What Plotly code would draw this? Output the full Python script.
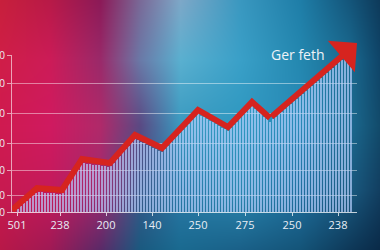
import zlib, struct, base64
import numpy as np
import plotly.graph_objects as go

# ---------------- data ----------------
x_tick_pos = [5, 48, 94, 140, 186, 233, 280, 326]
x_tick_labels = ["501", "238", "200", "140", "250", "275", "250", "238"]
y_tick_vals = [0, 17, 42, 69, 99, 129, 157]
y_tick_labels = ["0", "0", "0", "0", "0", "0", "0"]

line_x = [0, 25, 50, 70, 98, 123, 150, 186, 216, 240, 258, 345]
line_y = [2, 24, 22, 53, 49, 77, 64, 102, 85, 110, 94, 169]

bar_values = [
    3, 6, 9, 11, 14, 16, 19, 20, 20, 19, 19, 19, 19, 18, 18, 20,
    24, 29, 34, 38, 43, 47, 49, 48, 48, 47, 47, 47, 46, 46, 45, 46,
    49, 53, 56, 60, 63, 66, 70, 73, 72, 70, 69, 67, 66, 64, 63, 61,
    60, 63, 66, 70, 73, 76, 79, 82, 85, 88, 92, 95, 98, 96, 95, 93,
    91, 90, 88, 86, 84, 83, 81, 84, 87, 90, 94, 97, 100, 103, 106, 103,
    101, 98, 95, 93, 90, 93, 95, 98, 100, 103, 106, 108, 111, 113, 116, 118,
    121, 124, 126, 129, 131, 134, 137, 139, 142, 144, 147, 150, 152, 155, 157, 160,
]
bar_x = [6 + 3 * i for i in range(len(bar_values))]

annotation_text = "Ger feth"

# ---------------- background gradient (style) ----------------
W, H = 380, 250
gx = [0, 50, 100, 140, 180, 240, 300, 350, 380]
gy = [0, 60, 125, 190, 250]
grid_hex = [
    ["#c8203c", "#b81a48", "#8c1a58", "#7a6a98", "#7ea8c8", "#3a98c0", "#1f7ea8", "#14557a", "#0e3a5a"],
    ["#d01e48", "#cc1c58", "#9a2a6a", "#6a7aa8", "#5ab0d0", "#3aa0c8", "#2488b0", "#1a6a90", "#0f4468"],
    ["#d01a50", "#d01a60", "#b02a6a", "#5a4a84", "#3a9ac0", "#2f98c0", "#2a8ab8", "#1c6a90", "#124a6a"],
    ["#c81a50", "#c41a5c", "#a02a70", "#3a5a8a", "#2a7aa8", "#2a88b0", "#2070a0", "#1a5a80", "#123e60"],
    ["#b81848", "#a01a55", "#5a2a68", "#1a5a80", "#1a6a90", "#1a6088", "#145478", "#0e3858", "#0a2a48"],
]


def hex2rgb(h):
    h = h.lstrip("#")
    return [int(h[i:i + 2], 16) for i in (0, 2, 4)]


ctrl = np.array([[hex2rgb(c) for c in row] for row in grid_hex], dtype=float)
xs = np.arange(W)
ys = np.arange(H)
rows = np.zeros((len(gy), W, 3))
for r in range(len(gy)):
    for c in range(3):
        rows[r, :, c] = np.interp(xs, gx, ctrl[r, :, c])
img = np.zeros((H, W, 3))
for xi in range(W):
    for c in range(3):
        img[:, xi, c] = np.interp(ys, gy, rows[:, xi, c])
img = np.clip(img, 0, 255).astype(np.uint8)


def png_data_uri(rgb):
    h, w, _ = rgb.shape
    raw = b"".join(b"\x00" + rgb[y].tobytes() for y in range(h))

    def chunk(t, d):
        c = struct.pack(">I", len(d)) + t + d
        return c + struct.pack(">I", zlib.crc32(t + d) & 0xFFFFFFFF)

    png = (b"\x89PNG\r\n\x1a\n"
           + chunk(b"IHDR", struct.pack(">IIBBBBB", w, h, 8, 2, 0, 0, 0))
           + chunk(b"IDAT", zlib.compress(raw, 9))
           + chunk(b"IEND", b""))
    return "data:image/png;base64," + base64.b64encode(png).decode()


bg_uri = png_data_uri(img)

RED = "#d6241f"

# ---------------- figure ----------------
fig = go.Figure()

fig.add_trace(go.Bar(
    x=bar_x, y=bar_values, width=1.5, xaxis="x", yaxis="y2",
    marker=dict(color="rgba(185,210,255,0.68)", line=dict(width=0)),
    hoverinfo="skip", showlegend=False, cliponaxis=False,
))

fig.add_trace(go.Scatter(
    x=line_x[:-1], y=line_y[:-1], mode="lines", xaxis="x", yaxis="y2",
    line=dict(color=RED, width=6),
    cliponaxis=False, hoverinfo="skip", showlegend=False,
))

# final segment of the series drawn as an arrow
fig.add_annotation(
    x=line_x[-1], y=line_y[-1], xref="x", yref="y2",
    ax=line_x[-2], ay=line_y[-2], axref="x", ayref="y2",
    showarrow=True, arrowhead=1, arrowsize=1.15, arrowwidth=6,
    arrowcolor=RED, standoff=0, startstandoff=0, text="",
)

fig.add_annotation(
    x=286, y=157, xref="x", yref="y", text=annotation_text, showarrow=False,
    font=dict(family="Open Sans", size=14, color="#eef3f8"),
)

fig.update_layout(
    width=380, height=250,
    margin=dict(l=0, r=0, t=0, b=0),
    paper_bgcolor="rgba(0,0,0,0)", plot_bgcolor="rgba(0,0,0,0)",
    bargap=0,
    images=[dict(source=bg_uri, xref="paper", yref="paper", x=0, y=1,
                 sizex=1, sizey=1, sizing="stretch", layer="below")],
    xaxis=dict(
        domain=[12 / 380, 357 / 380], range=[0, 345], anchor="y",
        tickvals=x_tick_pos, ticktext=x_tick_labels,
        showgrid=False, zeroline=False,
        showline=True, linecolor="rgba(255,255,255,0.75)", linewidth=1,
        ticks="outside", ticklen=3, tickcolor="rgba(255,255,255,0.75)",
        tickfont=dict(family="Open Sans", size=11, color="#e8eef5"),
        automargin=False, fixedrange=True,
    ),
    yaxis=dict(
        domain=[1 - 212 / 250, 1 - 55 / 250], range=[0, 157], anchor="x",
        tickvals=y_tick_vals, ticktext=y_tick_labels,
        showgrid=True, gridcolor="rgba(255,255,255,0.45)", gridwidth=1,
        zeroline=False,
        showline=True, linecolor="rgba(255,255,255,0.6)", linewidth=1,
        ticks="outside", ticklen=4, tickcolor="rgba(255,255,255,0.6)",
        tickfont=dict(family="Open Sans", size=10, color="#e8eef5"),
        automargin=False, fixedrange=True,
    ),
    yaxis2=dict(
        domain=[1 - 212 / 250, 1 - 37 / 250], range=[0, 175], anchor="x",
        visible=False, showgrid=False, zeroline=False, fixedrange=True,
    ),
)

fig.write_html("out.html")
